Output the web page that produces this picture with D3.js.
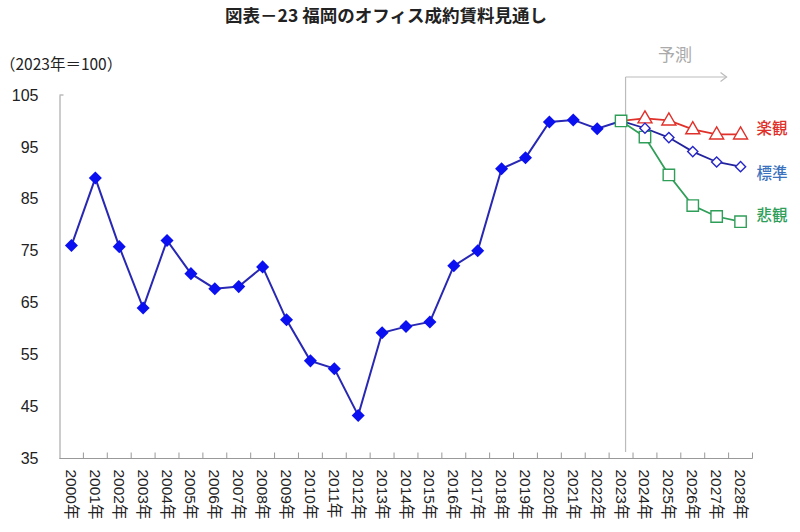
<!DOCTYPE html>
<html><head><meta charset="utf-8">
<script src="https://cdn.jsdelivr.net/npm/d3@7"></script>
<style>
body{margin:0;background:#fff;}
svg{display:block;font-family:"Liberation Sans","Noto Sans CJK JP",sans-serif;}
</style></head><body>
<svg id="c" width="800" height="532"></svg>
<script>
const years = ["2000年","2001年","2002年","2003年","2004年","2005年","2006年","2007年","2008年","2009年","2010年","2011年","2012年","2013年","2014年","2015年","2016年","2017年","2018年","2019年","2020年","2021年","2022年","2023年","2024年","2025年","2026年","2027年","2028年"];
const actualYears = years.slice(0,24);
const actual = [76.0,89.0,75.8,64.0,77.0,70.6,67.7,68.1,71.9,61.7,53.8,52.3,43.3,59.2,60.4,61.3,72.1,75.0,90.8,92.9,99.8,100.2,98.5,100];
const forecastYears = ["2023年","2024年","2025年","2026年","2027年","2028年"];
const optimistic = [100,100.5,100.1,98.4,97.4,97.4];
const standard = [100,98.6,96.8,94.1,92.1,91.2];
const pessimistic = [100,96.9,89.6,83.7,81.6,80.6];
const yTicks = [35,45,55,65,75,85,95,105];

const svg = d3.select("#c");
const mLeft = 59.5, mRight = 752.5, mTop = 95, mBottom = 458.5;
const x = d3.scaleBand().domain(years).range([mLeft,mRight]).padding(0);
const y = d3.scaleLinear().domain([35,105]).range([mBottom,mTop]);
const cx = d => x(d)+x.bandwidth()/2;
const CJK = "'Noto Sans CJK JP',sans-serif";
const LAT = "'Liberation Sans','Noto Sans CJK JP',sans-serif";

// title
svg.append("text").attr("x",386).attr("y",22).attr("text-anchor","middle")
  .attr("font-size",17.5).attr("font-weight","bold").attr("fill","#222")
  .attr("font-family",CJK)
  .text("図表－23 福岡のオフィス成約賃料見通し");
svg.append("text").attr("x",0).attr("y",70).attr("font-size",15.5).attr("fill","#222")
  .attr("font-family",CJK).text("（2023年＝100）");

// y axis
const ya = svg.append("g").attr("transform",`translate(${mLeft},0)`)
  .call(d3.axisLeft(y).tickValues(yTicks).tickSize(0).tickPadding(21));
ya.select(".domain").attr("stroke","#999");
ya.selectAll("text").attr("font-size",16).attr("fill","#222").attr("font-family",LAT);
ya.append("line").attr("x1",0).attr("x2",4).attr("y1",y(105)).attr("y2",y(105)).attr("stroke","#999");

// x axis
const xa = svg.append("g").attr("transform",`translate(0,${mBottom})`);
xa.append("line").attr("x1",mLeft).attr("x2",mRight).attr("y1",0).attr("y2",0).attr("stroke","#999");
xa.selectAll("line.t").data(years).enter().append("line").attr("class","t")
  .attr("x1",d=>x(d)+x.bandwidth()).attr("x2",d=>x(d)+x.bandwidth()).attr("y1",0).attr("y2",-6).attr("stroke","#999");
xa.selectAll("text").data(years).enter().append("text")
  .attr("transform",d=>`translate(${cx(d)-5.5},11) rotate(90)`)
  .attr("font-size",15.5).attr("fill","#222").attr("font-family",LAT)
  .text(d=>d);

// forecast divider
const fx = cx("2023年")+4.5;
svg.append("line").attr("x1",fx).attr("x2",fx).attr("y1",77).attr("y2",452).attr("stroke","#bbb").attr("stroke-width",1.2);
svg.append("line").attr("x1",fx).attr("x2",fx+101).attr("y1",77).attr("y2",77).attr("stroke","#bbb").attr("stroke-width",1.2);
svg.append("path").attr("d",`M${fx+95},72.5 L${fx+101},77 L${fx+95},81.5`).attr("fill","none").attr("stroke","#bbb").attr("stroke-width",1.2);
svg.append("text").attr("x",675).attr("y",61).attr("text-anchor","middle").attr("font-size",17).attr("fill","#aaa")
  .attr("font-family",CJK).text("予測");

const line = (ys) => d3.line().x((d,i)=>cx(ys[i])).y(d=>y(d));

const series = [
  {vals:pessimistic, color:"#2f9e58", sym:"square", label:"悲観", lc:"#2f9e58"},
  {vals:optimistic, color:"#e0302a", sym:"triangle", label:"楽観", lc:"#e0302a"},
  {vals:standard, color:"#22229e", mcolor:"#2626c8", sym:"diamond", label:"標準", lc:"#3b72bd"},
];
svg.append("path").datum(actual).attr("d",line(actualYears)).attr("fill","none").attr("stroke","#2828b4").attr("stroke-width",2);

series.forEach(s=>{
  svg.append("path").datum(s.vals).attr("d",line(forecastYears)).attr("fill","none").attr("stroke",s.color).attr("stroke-width",1.8);
});
// actual markers: filled diamonds (rotated squares)
svg.selectAll("path.am").data(actual.slice(0,23)).enter().append("path").attr("class","am")
  .attr("d",d3.symbol(d3.symbolSquare,85)())
  .attr("transform",(d,i)=>`translate(${cx(actualYears[i])},${y(d)}) rotate(45)`)
  .attr("fill","#0a10f0");

const symMap = {square:d3.symbolSquare, triangle:d3.symbolTriangle, diamond:d3.symbolSquare};
const sizeMap = {square:130, triangle:85, diamond:52};
series.forEach(s=>{
  const pts = s.sym==="square" ? s.vals : s.vals.slice(1);
  const yrs = s.sym==="square" ? forecastYears : forecastYears.slice(1);
  svg.selectAll(null).data(pts).enter().append("path")
    .attr("d",d3.symbol(symMap[s.sym],sizeMap[s.sym])())
    .attr("transform",(d,i)=>`translate(${cx(yrs[i])},${y(d)+(s.sym==="triangle"?0.5:0)})${s.sym==="diamond"?" rotate(45)":""}`)
    .attr("fill","#fff").attr("stroke",s.mcolor||s.color).attr("stroke-width",1.4);
});
const labelPos = {"楽観":128,"標準":173,"悲観":215};
series.forEach(s=>{
  svg.append("text").attr("x",772).attr("y",labelPos[s.label]).attr("dy","0.36em").attr("text-anchor","middle")
    .attr("font-size",15.5).attr("font-weight",500).attr("fill",s.lc)
    .attr("font-family",CJK).text(s.label);
});
</script>
</body></html>
